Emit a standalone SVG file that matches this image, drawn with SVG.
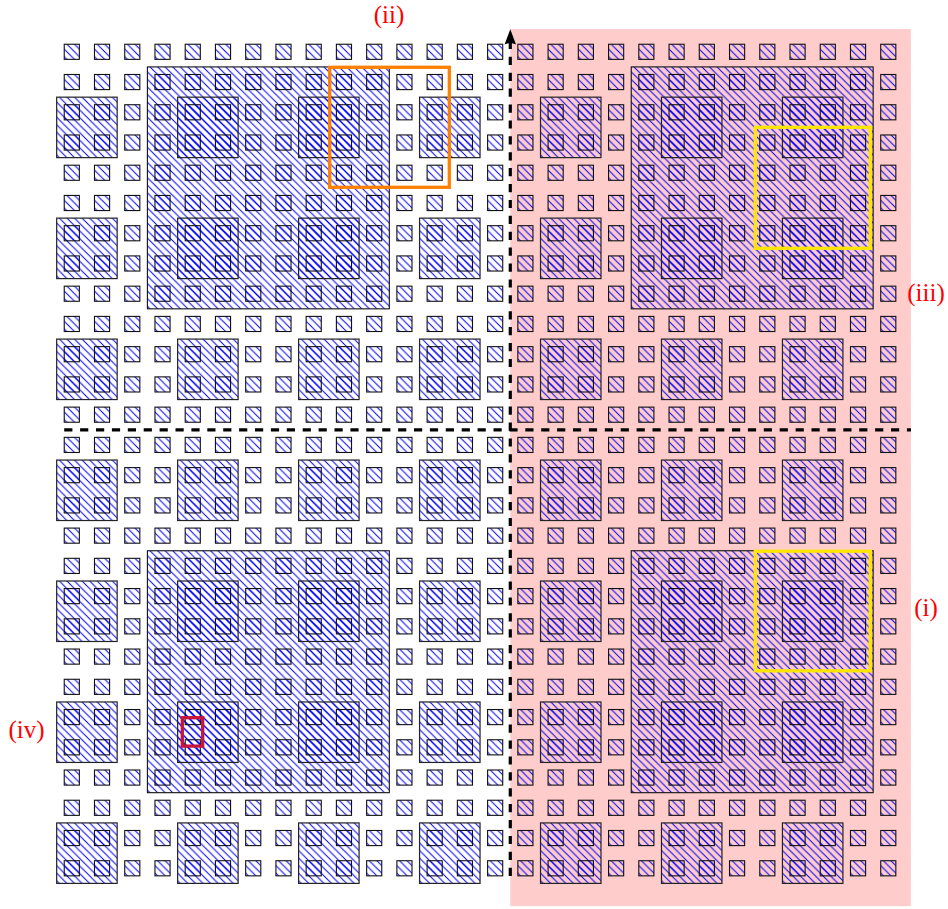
<svg xmlns="http://www.w3.org/2000/svg" xmlns:xlink="http://www.w3.org/1999/xlink" width="948" height="909" viewBox="0 0 948 909">
<style>
.sq{fill:url(#hatch);stroke:#111;stroke-width:1.1}
.blk{fill:url(#hatch);stroke:#222;stroke-width:1.2}
.big{fill:url(#hatch);stroke:#111;stroke-width:1.1}
.hl{fill:none;stroke-width:3.3}
.axis{fill:none;stroke:#000;stroke-width:3.2;stroke-dasharray:8.2 7.7}
.lbl{font-family:"Liberation Serif","DejaVu Serif",serif;font-size:25px;fill:#ff0000;text-anchor:middle}
</style>
<defs>
<pattern id="hatch" patternUnits="userSpaceOnUse" width="7.56" height="7.56">
<path d="M-1,-1 L8.56,8.56 M-1,6.56 L1,8.56 M6.56,-1 L8.56,1" stroke="#0000ff" stroke-width="1" fill="none"/>
</pattern>
<rect id="sq" class="sq" x="64.24" y="44.24" width="15.12" height="15.12"/>
<g id="sqrow">
<use xlink:href="#sq" x="0"/><use xlink:href="#sq" x="30.24"/><use xlink:href="#sq" x="60.48"/><use xlink:href="#sq" x="90.72"/>
<use xlink:href="#sq" x="120.96"/><use xlink:href="#sq" x="151.2"/><use xlink:href="#sq" x="181.44"/><use xlink:href="#sq" x="211.68"/>
<use xlink:href="#sq" x="241.92"/><use xlink:href="#sq" x="272.16"/><use xlink:href="#sq" x="302.4"/><use xlink:href="#sq" x="332.64"/>
<use xlink:href="#sq" x="362.88"/><use xlink:href="#sq" x="393.12"/><use xlink:href="#sq" x="423.36"/><use xlink:href="#sq" x="453.6"/>
<use xlink:href="#sq" x="483.84"/><use xlink:href="#sq" x="514.08"/><use xlink:href="#sq" x="544.32"/><use xlink:href="#sq" x="574.56"/>
<use xlink:href="#sq" x="604.8"/><use xlink:href="#sq" x="635.04"/><use xlink:href="#sq" x="665.28"/><use xlink:href="#sq" x="695.52"/>
<use xlink:href="#sq" x="725.76"/><use xlink:href="#sq" x="756"/><use xlink:href="#sq" x="786.24"/><use xlink:href="#sq" x="816.48"/>
</g>
<rect id="b2" class="blk" x="56.68" y="97.16" width="60.48" height="60.48"/>
<g id="b2row">
<use xlink:href="#b2" x="0"/><use xlink:href="#b2" x="120.96"/><use xlink:href="#b2" x="241.92"/><use xlink:href="#b2" x="362.88"/>
<use xlink:href="#b2" x="483.84"/><use xlink:href="#b2" x="604.8"/><use xlink:href="#b2" x="725.76"/>
</g>
</defs>

<g id="pink-region">
<rect x="510.28" y="29.1" width="400.6" height="877" fill="#ffcccc"/>
</g>

<g id="big-blocks">
<rect id="big-tl" class="big" x="147.4" y="66.92" width="241.92" height="241.92"/>
<rect id="big-tr" class="big" x="631.24" y="66.92" width="241.92" height="241.92"/>
<rect id="big-bl" class="big" x="147.4" y="550.76" width="241.92" height="241.92"/>
<rect id="big-br" class="big" x="631.24" y="550.76" width="241.92" height="241.92"/>
</g>

<g id="blocks-2x2">
<use xlink:href="#b2row" y="0"/><use xlink:href="#b2row" y="120.96"/><use xlink:href="#b2row" y="241.92"/><use xlink:href="#b2row" y="362.88"/>
<use xlink:href="#b2row" y="483.84"/><use xlink:href="#b2row" y="604.8"/><use xlink:href="#b2row" y="725.76"/>
</g>

<g id="cells">
<use xlink:href="#sqrow" y="0"/><use xlink:href="#sqrow" y="30.24"/><use xlink:href="#sqrow" y="60.48"/><use xlink:href="#sqrow" y="90.72"/>
<use xlink:href="#sqrow" y="120.96"/><use xlink:href="#sqrow" y="151.2"/><use xlink:href="#sqrow" y="181.44"/><use xlink:href="#sqrow" y="211.68"/>
<use xlink:href="#sqrow" y="241.92"/><use xlink:href="#sqrow" y="272.16"/><use xlink:href="#sqrow" y="302.4"/><use xlink:href="#sqrow" y="332.64"/>
<use xlink:href="#sqrow" y="362.88"/><use xlink:href="#sqrow" y="393.12"/><use xlink:href="#sqrow" y="423.36"/><use xlink:href="#sqrow" y="453.6"/>
<use xlink:href="#sqrow" y="483.84"/><use xlink:href="#sqrow" y="514.08"/><use xlink:href="#sqrow" y="544.32"/><use xlink:href="#sqrow" y="574.56"/>
<use xlink:href="#sqrow" y="604.8"/><use xlink:href="#sqrow" y="635.04"/><use xlink:href="#sqrow" y="665.28"/><use xlink:href="#sqrow" y="695.52"/>
<use xlink:href="#sqrow" y="725.76"/><use xlink:href="#sqrow" y="756"/><use xlink:href="#sqrow" y="786.24"/><use xlink:href="#sqrow" y="816.48"/>
</g>

<g id="highlights">
<rect id="hl-orange" class="hl" x="329.7" y="67.3" width="119.6" height="120" stroke="#ff8000"/>
<rect id="hl-yellow-top" class="hl" x="755.3" y="127.3" width="115" height="121" stroke="#ffe600"/>
<rect id="hl-yellow-bottom" class="hl" x="755.3" y="551.2" width="115" height="119.6" stroke="#ffe600"/>
<rect id="hl-red" class="hl" x="182.3" y="717.7" width="20.4" height="28.4" stroke="#c8143c"/>
</g>

<g id="connectors">
<path id="axis-x" class="axis" d="M64.2,429.8 L911,429.8"/>
<path id="axis-y" class="axis" d="M510.28,875.9 L510.28,42"/>
<path id="axis-y-head" d="M510.28,29.3 L516,44.6 Q510.28,41.6 504.56,44.6 Z" fill="#000"/>
</g>

<g id="labels">
<text class="lbl" x="389" y="23">(ii)</text>
<text class="lbl" x="926" y="300.5">(iii)</text>
<text class="lbl" x="926" y="616">(i)</text>
<text class="lbl" x="26.5" y="738">(iv)</text>
</g>
</svg>
